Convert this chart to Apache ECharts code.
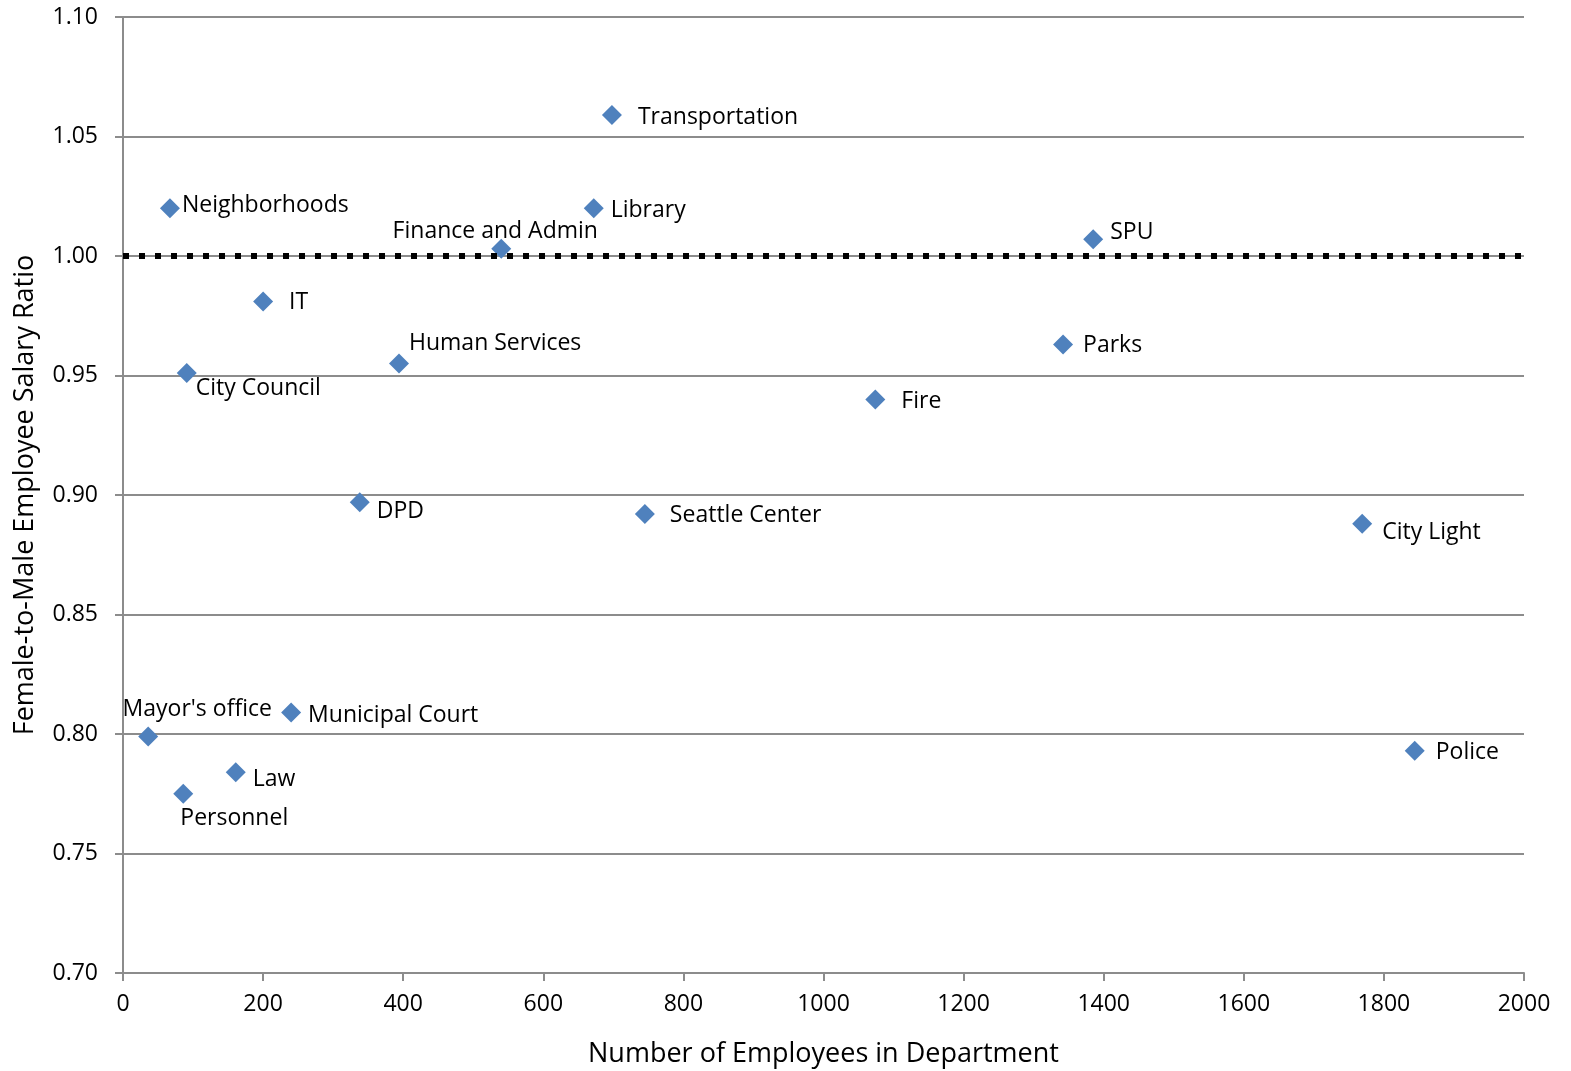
<!DOCTYPE html>
<html>
<head>
<meta charset="utf-8">
<script src="https://cdn.jsdelivr.net/npm/echarts@6/dist/echarts.min.js"></script>
<style>
  html, body { margin: 0; padding: 0; background: #fff; }
  #chart { width: 1571px; height: 1071px; }
</style>
</head>
<body>
<div id="chart"></div>
<script>
// departments, headcount, female/male salary ratio
const names = ['Transportation', 'Neighborhoods', 'Library', 'Finance and Admin', 'SPU', 'IT',
  'Human Services', 'City Council', 'Parks', 'Fire', 'DPD', 'Seattle Center', 'City Light',
  "Mayor's office", 'Municipal Court', 'Law', 'Personnel', 'Police'];
const employees = [698, 67, 672, 540, 1385, 200, 394, 91, 1342, 1074, 338, 745, 1769, 36, 240, 161, 86, 1844];
const ratios = [1.059, 1.020, 1.020, 1.003, 1.007, 0.981, 0.955, 0.951, 0.963, 0.940, 0.897, 0.892, 0.888, 0.799, 0.809, 0.784, 0.775, 0.793];
const yTicks = [0.70, 0.75, 0.80, 0.85, 0.90, 0.95, 1.00, 1.05, 1.10];
const parityLine = 1.0;

// label placement (pixels) - most on the right, a few centred above/below
const labelOffsets = {
  'Transportation': ['right', 16, 2],
  'Neighborhoods': ['right', 2, -3],
  'Library': ['right', 7, 2],
  'Finance and Admin': ['inside', -6, -17],
  'SPU': ['right', 7, -7],
  'IT': ['right', 16, 1],
  'Human Services': ['right', 0, -20],
  'City Council': ['right', -1, 15],
  'Parks': ['right', 10, 1],
  'Fire': ['right', 16, 2],
  'DPD': ['right', 7, 9],
  'Seattle Center': ['right', 15, 1],
  'City Light': ['right', 10, 9],
  "Mayor's office": ['inside', 49, -27],
  'Municipal Court': ['right', 7, 3],
  'Law': ['right', 7, 7],
  'Personnel': ['inside', 51, 25],
  'Police': ['right', 11, 2]
};

const font = "'Open Sans', 'Liberation Sans', sans-serif";
const gridColor = '#8c8c8c';

let points = names.map((n, i) => {
  let p = labelOffsets[n];
  return {
    name: n,
    value: [employees[i], ratios[i]],
    label: {
      show: true,
      formatter: n,
      position: p[0],
      distance: 0,
      offset: [p[1], p[2]],
      align: p[0] == 'inside' ? 'center' : 'left',
      verticalAlign: 'middle',
      color: '#000',
      fontSize: 23,
      fontFamily: font
    }
  };
});

let chart = echarts.init(document.getElementById('chart'), null, { renderer: 'canvas' });

chart.setOption({
  backgroundColor: '#fff',
  animation: false,
  grid: { left: 123, right: 47, top: 17, bottom: 98, containLabel: false, outerBoundsMode: 'none' },
  xAxis: {
    type: 'value',
    min: 0, max: 2000, interval: 200,
    name: 'Number of Employees in Department',
    nameLocation: 'middle',
    nameGap: 68,
    nameTextStyle: { fontSize: 27, color: '#000', fontFamily: font },
    axisLine: { show: true, lineStyle: { color: gridColor, width: 2 } },
    axisTick: { show: true, length: 8, lineStyle: { color: gridColor, width: 2 } },
    axisLabel: { fontSize: 23, color: '#000', fontFamily: font, margin: 20,
      formatter: v => String(v) },
    splitLine: { show: false }
  },
  yAxis: {
    type: 'value',
    min: yTicks[0], max: yTicks[yTicks.length - 1], interval: 0.05,
    name: 'Female-to-Male Employee Salary Ratio',
    nameLocation: 'middle',
    nameGap: 84,
    nameTextStyle: { fontSize: 27, color: '#000', fontFamily: font },
    axisLine: { show: true, lineStyle: { color: gridColor, width: 2 } },
    axisTick: { show: true, length: 8, lineStyle: { color: gridColor, width: 2 } },
    axisLabel: { fontSize: 23, color: '#000', fontFamily: font, margin: 25,
      formatter: v => v.toFixed(2) },
    splitLine: { show: true, lineStyle: { color: gridColor, width: 2 } }
  },
  series: [{
    type: 'scatter',
    symbol: 'diamond',
    symbolSize: 20,
    itemStyle: { color: '#4f81bd', opacity: 1 },
    data: points,
    markLine: {
      silent: true,
      symbol: 'none',
      label: { show: false },
      lineStyle: { color: '#000', width: 6, type: [6, 10], cap: 'butt', opacity: 1 },
      data: [[{ coord: [0, parityLine] }, { coord: [2000, parityLine] }]]
    }
  }]
});
</script>
</body>
</html>
